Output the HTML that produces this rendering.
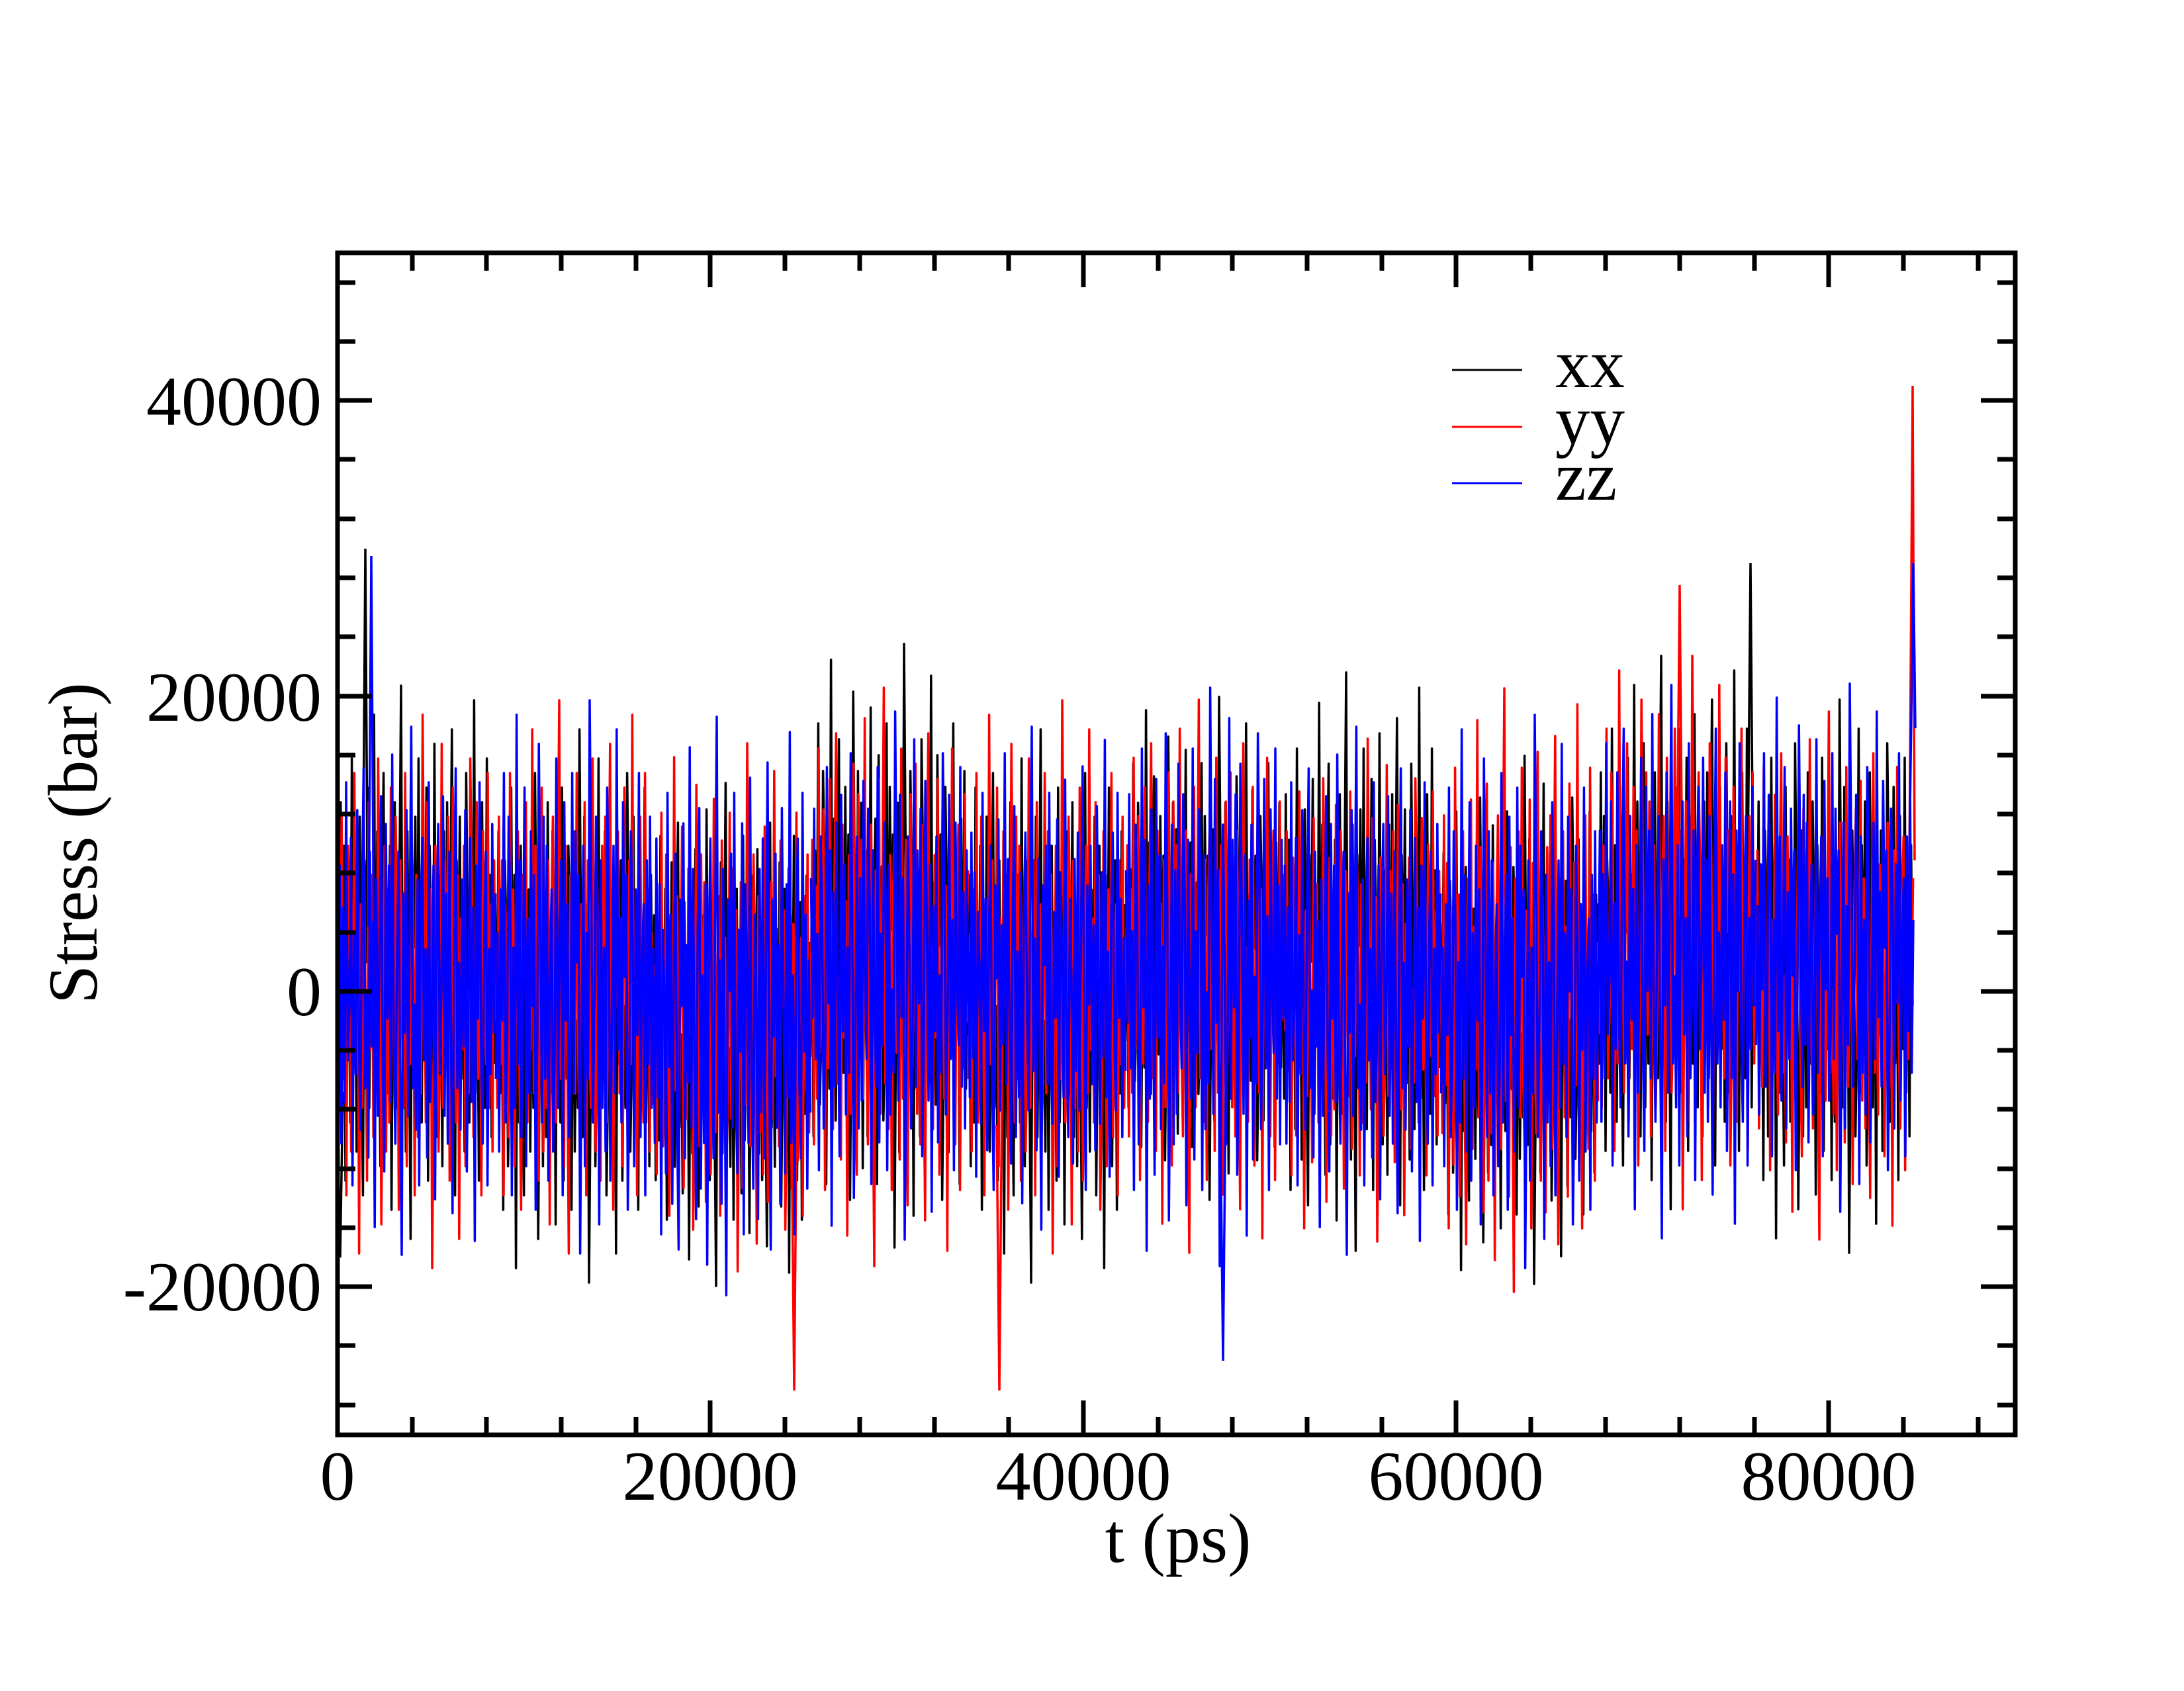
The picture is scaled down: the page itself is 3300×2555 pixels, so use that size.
<!DOCTYPE html>
<html><head><meta charset="utf-8"><style>
html,body{margin:0;padding:0;background:#fff;}
svg text{font-family:"Liberation Serif",serif;fill:#000;}
</style></head><body>
<svg width="3300" height="2550" viewBox="0 0 3300 2550" xmlns="http://www.w3.org/2000/svg">
<rect width="3300" height="2550" fill="#fff"/>
<defs>
<path id="n" vector-effect="non-scaling-stroke" fill="none" stroke-linejoin="round" d="M0 3 L1 -8 L2 12 L3 -5 L4 9 L5 -14 L6 6 L7 2 L8 -10 L9 15 L10 -3 L11 7 L12 -12 L13 4 L14 11 L15 -6 L16 -15 L17 8 L18 1 L19 13 L20 -9 L21 5 L22 -4 L23 18 L24 -7 L25 10 L26 -2 L27 -13 L28 6 L29 14 L30 -11 L31 3 L32 -8 L33 9 L34 -16 L35 5 L36 12 L37 -1 L38 -9 L39 7 L40 20 L41 -6 L42 4 L43 -12 L44 10 L45 -3 L46 -18 L47 8 L48 2 L49 11 L50 -7 L51 15 L52 -5 L53 -10 L54 6 L55 -2 L56 13 L57 -14 L58 9 L59 3 L60 -8 L61 16 L62 -4 L63 -11 L64 7 L65 1 L66 -13 L67 10 L68 -6 L69 12 L70 -9 L71 4 L72 17 L73 -3 L74 -15 L75 8 L76 -1 L77 11 L78 -7 L79 5 L80 -12 L81 14 L82 2 L83 -10 L84 9 L85 -5 L86 19 L87 -8 L88 3 L89 -14 L90 6 L91 12 L92 -4 L93 -9 L94 15 L95 -2 L96 7 L97 -11 L98 4 L99 -6"/>
</defs>
<g stroke="#000" stroke-width="3.5">
<use href="#n" transform="translate(510,1476) scale(2.4,-22)"/>
<use href="#n" transform="translate(986,1498) scale(-2.4,22)"/>
<use href="#n" transform="translate(986,1543) scale(2.4,20)"/>
<use href="#n" transform="translate(1462,1453) scale(-2.4,-24)"/>
<use href="#n" transform="translate(1462,1498) scale(2.4,22)"/>
<use href="#n" transform="translate(1938,1453) scale(-2.4,-20)"/>
<use href="#n" transform="translate(1938,1476) scale(2.4,-23)"/>
<use href="#n" transform="translate(2414,1520) scale(-2.4,21)"/>
<use href="#n" transform="translate(2414,1431) scale(2.4,-22)"/>
<use href="#n" transform="translate(2890,1453) scale(-2.4,22)"/>
<path d="M510 1700 L514 1900 L518 1650" fill="none"/>
<path d="M548 1400 L552 829 L556 1450 M2641 1300 L2645 851 L2649 1350" fill="none"/>
</g>
<g stroke="#f00" stroke-width="3.5">
<use href="#n" transform="translate(749,1476) scale(-2.4,22)"/>
<use href="#n" transform="translate(749,1498) scale(2.4,-22)"/>
<use href="#n" transform="translate(1225,1543) scale(-2.4,-21)"/>
<use href="#n" transform="translate(1225,1453) scale(2.4,23)"/>
<use href="#n" transform="translate(1701,1498) scale(-2.4,-22)"/>
<use href="#n" transform="translate(1701,1453) scale(2.4,22)"/>
<use href="#n" transform="translate(2177,1476) scale(-2.4,20)"/>
<use href="#n" transform="translate(2177,1520) scale(2.4,-24)"/>
<use href="#n" transform="translate(2653,1431) scale(-2.4,-22)"/>
<use href="#n" transform="translate(2653,1453) scale(2.4,21)"/>
<path d="M2884 1450 L2890 583 L2893 1300" fill="none"/>
<path d="M1196 1700 L1200 2101 L1204 1650 M1506 1700 L1510 2101 L1514 1650 M2534 1300 L2538 884 L2542 1350" fill="none"/>
</g>
<g stroke="#00f" stroke-width="3.5">
<use href="#n" transform="translate(511,1476) scale(2.4,21)"/>
<use href="#n" transform="translate(987,1498) scale(-2.4,-22)"/>
<use href="#n" transform="translate(987,1543) scale(2.4,-23)"/>
<use href="#n" transform="translate(1463,1453) scale(-2.4,21)"/>
<use href="#n" transform="translate(1463,1498) scale(2.4,-20)"/>
<use href="#n" transform="translate(1939,1453) scale(-2.4,23)"/>
<use href="#n" transform="translate(1939,1476) scale(2.4,21)"/>
<use href="#n" transform="translate(2415,1520) scale(-2.4,-22)"/>
<use href="#n" transform="translate(2415,1431) scale(2.4,22)"/>
<use href="#n" transform="translate(2891,1453) scale(-2.4,-21)"/>
<path d="M2885 1300 L2891 851 L2894 1100" fill="none"/>
<path d="M1844 1700 L1848 2056 L1852 1650 M557 1400 L561 840 L565 1450" fill="none"/>
</g>
<g stroke="#000" stroke-width="7">
<path d="M510 2168v-52M623 2168v-27M735 2168v-27M848 2168v-27M961 2168v-27M1073 2168v-52M1186 2168v-27M1299 2168v-27M1412 2168v-27M1524 2168v-27M1637 2168v-52M1750 2168v-27M1862 2168v-27M1975 2168v-27M2088 2168v-27M2200 2168v-52M2313 2168v-27M2426 2168v-27M2538 2168v-27M2651 2168v-27M2763 2168v-52M2876 2168v-27M2989 2168v-27"/>
<path d="M510 382v52M623 382v27M735 382v27M848 382v27M961 382v27M1073 382v52M1186 382v27M1299 382v27M1412 382v27M1524 382v27M1637 382v52M1750 382v27M1862 382v27M1975 382v27M2088 382v27M2200 382v52M2313 382v27M2426 382v27M2538 382v27M2651 382v27M2763 382v52M2876 382v27M2989 382v27"/>
<path d="M510 2123h27M510 2033h27M510 1944h52M510 1855h27M510 1766h27M510 1676h27M510 1587h27M510 1498h52M510 1409h27M510 1319h27M510 1230h27M510 1141h27M510 1052h52M510 962h27M510 873h27M510 784h27M510 694h27M510 605h52M510 516h27M510 427h27"/>
<path d="M3045 2123h-27M3045 2033h-27M3045 1944h-52M3045 1855h-27M3045 1766h-27M3045 1676h-27M3045 1587h-27M3045 1498h-52M3045 1409h-27M3045 1319h-27M3045 1230h-27M3045 1141h-27M3045 1052h-52M3045 962h-27M3045 873h-27M3045 784h-27M3045 694h-27M3045 605h-52M3045 516h-27M3045 427h-27"/>
</g>
<rect x="510" y="382" width="2535" height="1786" fill="none" stroke="#000" stroke-width="7"/>
<g font-size="106" text-anchor="end">
<text x="486" y="642">40000</text>
<text x="486" y="1089">20000</text>
<text x="486" y="1534">0</text>
<text x="486" y="1980">-20000</text>
</g>
<g font-size="106" text-anchor="middle">
<text x="510" y="2266">0</text>
<text x="1073" y="2266">20000</text>
<text x="1637" y="2266">40000</text>
<text x="2200" y="2266">60000</text>
<text x="2763" y="2266">80000</text>
<text x="1780" y="2360">t (ps)</text>
<text transform="translate(146,1274) rotate(-90)">Stress (bar)</text>
</g>
<line x1="2194" y1="559" x2="2300" y2="559" stroke="#000" stroke-width="3"/>
<line x1="2194" y1="645" x2="2300" y2="645" stroke="#f00" stroke-width="3"/>
<line x1="2194" y1="730" x2="2300" y2="730" stroke="#00f" stroke-width="3"/>
<g font-size="105">
<text x="2350" y="585">xx</text>
<text x="2350" y="670">yy</text>
<text x="2350" y="755">zz</text>
</g>
</svg>
</body></html>
